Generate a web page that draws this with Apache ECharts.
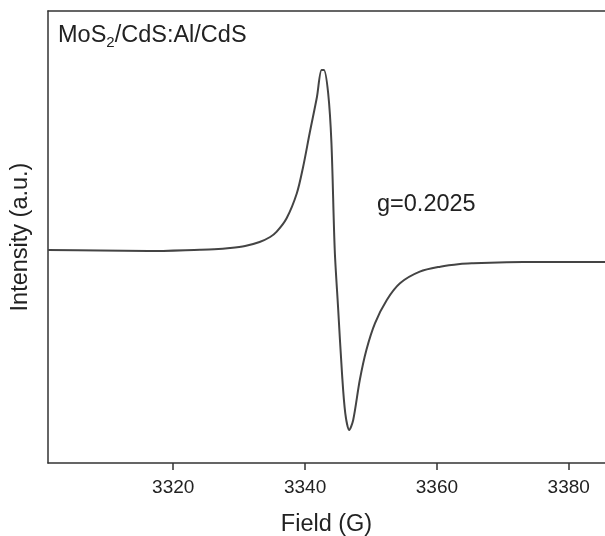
<!DOCTYPE html>
<html>
<head>
<meta charset="utf-8">
<script src="https://cdn.jsdelivr.net/npm/echarts@6/dist/echarts.min.js"></script>
<style>
html,body{margin:0;padding:0;background:#fff;}
#c{width:605px;height:536px;}
</style>
</head>
<body>
<div id="c"></div>
<script>
var fieldValues = [3301.0, 3308.9, 3316.2, 3324.05, 3326.2, 3328.6, 3330.9, 3333.1, 3334.7, 3335.7, 3337.2, 3338.75, 3339.7, 3340.7, 3341.8, 3342.5, 3342.85, 3343.5, 3344.0, 3344.5, 3345.0, 3345.6, 3346.1, 3346.7, 3347.3, 3348.3, 3349.3, 3350.6, 3352.4, 3354.4, 3357.4, 3360.5, 3363.5, 3365.5, 3370.6, 3375.6, 3385.5];
var intensityValues = [0, -0.5, -1, 0.3, 0.8, 2, 4, 8, 13, 18.3, 31.7, 56.7, 83, 117, 153, 180, 180, 157, 107, 0, -56.7, -123.3, -163.3, -180, -170, -130, -100, -73.3, -50, -33.3, -21.7, -16.7, -14, -13.3, -12.3, -12, -12];
var xTicks = [3320, 3340, 3360, 3380];
var xTitle = 'Field (G)';
var yTitle = 'Intensity (a.u.)';
var sampleLabel = ['MoS', '2', '/CdS:Al/CdS'];
var gLabel = 'g=0.2025';

var points = fieldValues.map(function (f, i) { return [f, intensityValues[i]]; });
var FONT = '"Liberation Sans", Arial, sans-serif';
var chart = echarts.init(document.getElementById('c'), null, {renderer: 'canvas'});
chart.setOption({
  backgroundColor: '#ffffff',
  animation: false,
  grid: {left: 48, right: 0, top: 11, bottom: 73, containLabel: false, outerBoundsMode: 'none'},
  xAxis: [{
    type: 'value', min: 3301, max: 3385.5,
    name: xTitle, nameLocation: 'middle', nameGap: 50,
    nameTextStyle: {fontFamily: FONT, fontSize: 23.5, color: '#222'},
    axisLine: {show: true, onZero: false, lineStyle: {color: '#333', width: 1.5}},
    axisTick: {show: true, length: 7, inside: false, customValues: xTicks, lineStyle: {color: '#333', width: 1.5}},
    axisLabel: {show: true, customValues: xTicks, margin: 15, fontFamily: FONT, fontSize: 19, color: '#222',
      formatter: function (v) { return String(v); }},
    splitLine: {show: false}
  }, {
    type: 'value', min: 3301, max: 3385.5, position: 'top',
    axisLine: {show: true, onZero: false, lineStyle: {color: '#333', width: 1.5}},
    axisTick: {show: false}, axisLabel: {show: false}, splitLine: {show: false}
  }],
  yAxis: {
    type: 'value', min: -213, max: 239,
    name: yTitle, nameLocation: 'middle', nameGap: 15,
    nameTextStyle: {fontFamily: FONT, fontSize: 23.5, color: '#222'},
    axisLine: {show: true, onZero: false, lineStyle: {color: '#333', width: 1.5}},
    axisTick: {show: false}, axisLabel: {show: false}, splitLine: {show: false}
  },
  series: [{
    type: 'line', data: points, xAxisIndex: 0, showSymbol: false, smooth: 0.3,
    lineStyle: {color: '#444', width: 2}
  }],
  graphic: [{
    type: 'text', left: 58, top: 24,
    style: {
      rich: {
        a: {fontFamily: FONT, fontSize: 23.5, fill: '#222'},
        s: {fontFamily: FONT, fontSize: 15, fill: '#222', padding: [13, 0, 0, 0]}
      },
      text: '{a|' + sampleLabel[0] + '}{s|' + sampleLabel[1] + '}{a|' + sampleLabel[2] + '}'
    }
  }, {
    type: 'text', left: 377, top: 193,
    style: {text: gLabel, fontFamily: FONT, fontSize: 23.5, fill: '#222'}
  }]
});
</script>
</body>
</html>
